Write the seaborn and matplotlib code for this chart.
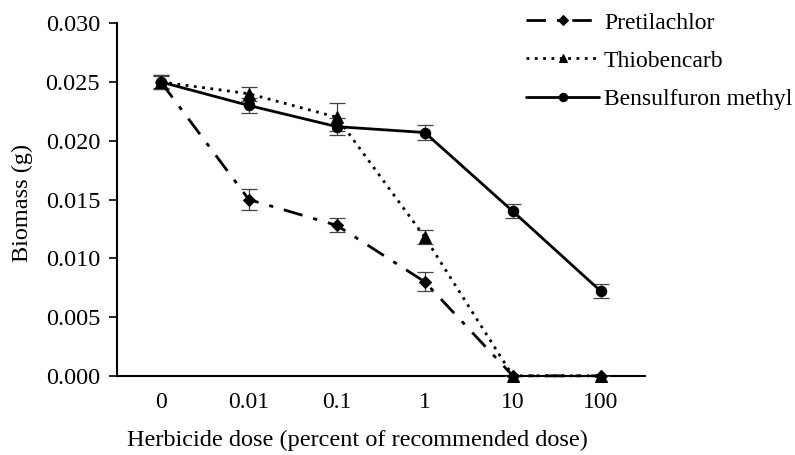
import matplotlib
matplotlib.use("Agg")
import matplotlib.pyplot as plt
import seaborn as sns
import numpy as np
import pandas as pd

doses = ["0", "0.01", "0.1", "1", "10", "100"]
pretilachlor = [0.0250, 0.0150, 0.0128, 0.0080, 0.0, 0.0]
pretilachlor_err = [0.0006, 0.0009, 0.0006, 0.0008, 0.0, 0.0]
thiobencarb = [0.0250, 0.0240, 0.0220, 0.0118, 0.0, 0.0]
thiobencarb_err = [0.0005, 0.0006, 0.0012, 0.0006, 0.0, 0.0]
bensulfuron = [0.0250, 0.0230, 0.0212, 0.0207, 0.0140, 0.0072]
bensulfuron_err = [0.0006, 0.0006, 0.0007, 0.0006, 0.0006, 0.0006]
yticks = [0.000, 0.005, 0.010, 0.015, 0.020, 0.025, 0.030]

sns.set_theme(style="white")
plt.rcParams['font.family'] = ['Liberation Serif', 'DejaVu Serif']

fig = plt.figure(figsize=(7.95, 4.55), dpi=100)
ax = fig.add_axes([0.147, 0.174, 0.664, 0.775])

pos = np.arange(len(doses))
series = [
    ("Pretilachlor", pretilachlor, pretilachlor_err, "D", 6.5, (0, (7, 4, 1.5, 4))),
    ("Thiobencarb", thiobencarb, thiobencarb_err, "^", 8, (0, (1, 2.0))),
    ("Bensulfuron methyl", bensulfuron, bensulfuron_err, "o", 7.5, "-"),
]
for name, vals, errs, mk, ms, ls in series:
    ax.errorbar(pos, vals, yerr=errs, fmt="none", ecolor="#444444", elinewidth=0.9,
                capsize=6, capthick=0.9, zorder=2)
    sns.lineplot(x=pos, y=vals, ax=ax, color="black", linewidth=2.0, linestyle=ls,
                 marker=mk, markersize=ms, markeredgecolor="black",
                 markerfacecolor="black", label=name, zorder=3, clip_on=False)

ax.set_xlim(-0.5, 5.5)
ax.set_ylim(0, 0.030)
ax.set_xticks(pos)
ax.set_xticklabels(doses)
ax.set_yticks(yticks)
ax.set_yticklabels([f"{t:.3f}" for t in yticks])
ax.tick_params(axis="x", length=0, labelsize=17, pad=12, colors="black")
ax.tick_params(axis="y", length=6, width=1.2, direction="out", labelsize=17.5, colors="black", left=True, pad=6)
for s in ["top", "right"]:
    ax.spines[s].set_visible(False)
for s in ["left", "bottom"]:
    ax.spines[s].set_color("black")
    ax.spines[s].set_linewidth(1.5)
    ax.spines[s].set_zorder(1)
ax.set_xlabel("Herbicide dose (percent of recommended dose)", fontsize=17.5, color="black")
ax.xaxis.set_label_coords(0.455, -0.152)
ax.set_ylabel("Biomass (g)", fontsize=17.5, color="black")
ax.yaxis.set_label_coords(-0.158, 0.49)

leg = ax.legend(loc="upper left", bbox_to_anchor=(0.635, 1.02), bbox_transform=fig.transFigure,
                frameon=False, fontsize=17, handlelength=3.1, labelspacing=0.7,
                handletextpad=0.2, markerscale=0.8)
for t in leg.get_texts():
    t.set_color("black")

fig.savefig("out.png", dpi=100)
